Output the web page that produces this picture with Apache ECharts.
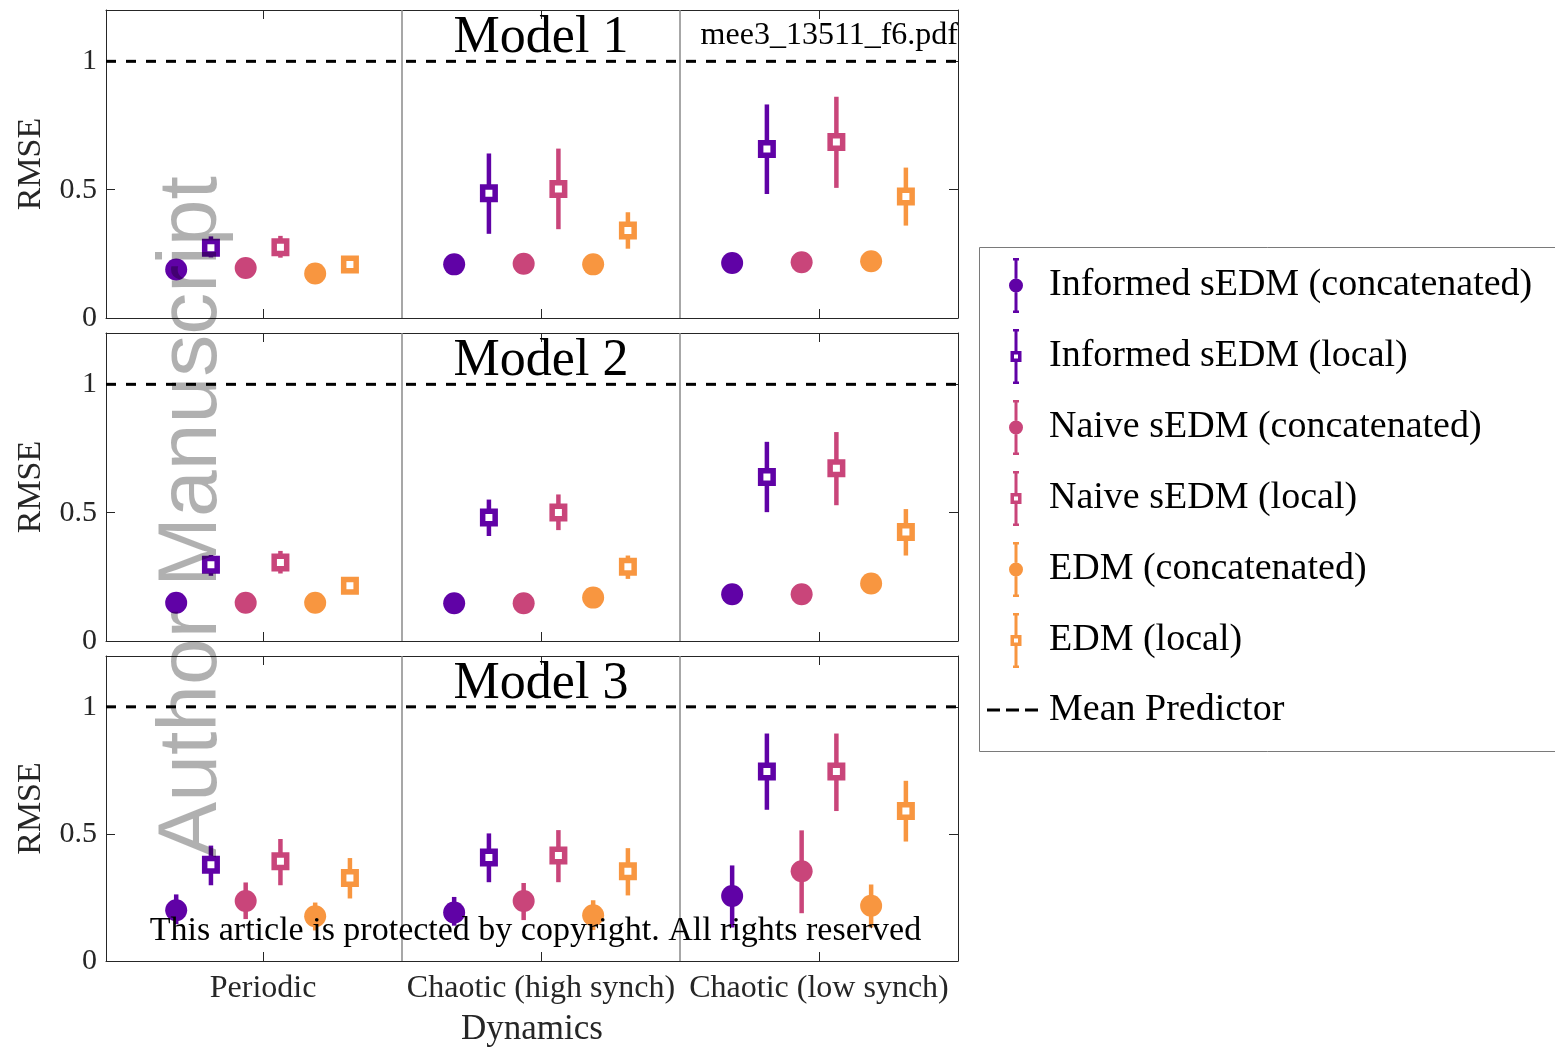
<!DOCTYPE html>
<html>
<head>
    <meta charset="utf-8">
    <title>RMSE by dynamics</title>
    <script src="https://cdn.jsdelivr.net/npm/echarts@6/dist/echarts.min.js"></script>
    <style>
        html, body { margin: 0; padding: 0; background: #fff; }
        #chart { width: 1555px; height: 1048px; }
    </style>
</head>
<body>
    <div id="chart"></div>

    <script>
    // categories and methods
    const categories = ['Periodic', 'Chaotic (high synch)', 'Chaotic (low synch)'];
    const methods = [
        'Informed sEDM (concatenated)',
        'Informed sEDM (local)',
        'Naive sEDM (concatenated)',
        'Naive sEDM (local)',
        'EDM (concatenated)',
        'EDM (local)'
    ];
    const modelNames = ['Model 1', 'Model 2', 'Model 3'];
    const meanPredictorRMSE = 1;

    // rows = methods, columns = categories
    const model1Mean = [
        [0.189, 0.209, 0.214],
        [0.274, 0.486, 0.658],
        [0.195, 0.211, 0.217],
        [0.276, 0.503, 0.686],
        [0.173, 0.209, 0.221],
        [0.208, 0.341, 0.473]
    ];
    const model1Low = [
        [0.177, 0.197, 0.202],
        [0.236, 0.328, 0.483],
        [0.183, 0.199, 0.198],
        [0.235, 0.346, 0.507],
        [0.161, 0.197, 0.209],
        [0.190, 0.270, 0.360]
    ];
    const model1High = [
        [0.201, 0.221, 0.226],
        [0.318, 0.641, 0.832],
        [0.207, 0.223, 0.244],
        [0.320, 0.660, 0.862],
        [0.185, 0.221, 0.233],
        [0.225, 0.412, 0.586]
    ];

    const model2Mean = [
        [0.149, 0.147, 0.182],
        [0.297, 0.481, 0.639],
        [0.149, 0.147, 0.182],
        [0.306, 0.501, 0.673],
        [0.149, 0.169, 0.224],
        [0.215, 0.289, 0.425]
    ];
    const model2Low = [
        [0.139, 0.137, 0.172],
        [0.254, 0.409, 0.502],
        [0.139, 0.137, 0.172],
        [0.263, 0.432, 0.529],
        [0.139, 0.159, 0.214],
        [0.200, 0.242, 0.333]
    ];
    const model2High = [
        [0.159, 0.157, 0.192],
        [0.335, 0.551, 0.776],
        [0.159, 0.157, 0.192],
        [0.351, 0.571, 0.814],
        [0.159, 0.179, 0.234],
        [0.230, 0.333, 0.514]
    ];

    const model3Mean = [
        [0.200, 0.191, 0.256],
        [0.379, 0.407, 0.746],
        [0.236, 0.236, 0.353],
        [0.392, 0.415, 0.746],
        [0.176, 0.180, 0.217],
        [0.327, 0.353, 0.590]
    ];
    const model3Low = [
        [0.145, 0.139, 0.132],
        [0.298, 0.310, 0.595],
        [0.165, 0.161, 0.188],
        [0.298, 0.310, 0.590],
        [0.120, 0.122, 0.132],
        [0.246, 0.258, 0.470]
    ];
    const model3High = [
        [0.262, 0.252, 0.376],
        [0.454, 0.502, 0.895],
        [0.309, 0.307, 0.514],
        [0.480, 0.515, 0.895],
        [0.230, 0.239, 0.301],
        [0.405, 0.444, 0.709]
    ];

    const yTicks = [0, 0.5, 1];

    const models = [
        { mean: model1Mean, low: model1Low, high: model1High },
        { mean: model2Mean, low: model2Low, high: model2High },
        { mean: model3Mean, low: model3Low, high: model3High }
    ];

    const colors = ['#6002a6', '#6002a6', '#c9457a', '#c9457a', '#f89640', '#f89640'];
    const markers = ['circle', 'square', 'circle', 'square', 'circle', 'square'];

    const serif = 'Liberation Serif';
    const axisColor = '#262626';
    const xMin = 0.435, xMax = 3.5;
    const gridTops = [10, 333, 656];
    const gridH = 308;

    function makeRender(marker) {
        return function (params, api) {
            const x = api.value(0);
            const p = api.coord([x, api.value(1)]);
            const lo = api.coord([x, api.value(2)]);
            const hi = api.coord([x, api.value(3)]);
            const color = api.visual('color');
            const kids = [{
                type: 'line',
                shape: { x1: hi[0], y1: hi[1], x2: lo[0], y2: lo[1] },
                style: { stroke: color, lineWidth: 4.5 }
            }];
            if (marker === 'circle') {
                kids.push({ type: 'circle', shape: { cx: p[0], cy: p[1], r: 11 }, style: { fill: color } });
            } else {
                kids.push({
                    type: 'rect',
                    shape: { x: p[0] - 6.25, y: p[1] - 6.25, width: 12.5, height: 12.5 },
                    style: { fill: '#fff', stroke: color, lineWidth: 5.5 }
                });
            }
            return { type: 'group', children: kids };
        };
    }

    function renderMean(params, api) {
        const cs = params.coordSys;
        const y = api.coord([xMin, api.value(1)])[1];
        return {
            type: 'line',
            shape: { x1: cs.x, y1: y, x2: cs.x + cs.width, y2: y },
            style: { stroke: '#000', lineWidth: 3, lineDash: [10, 10] }
        };
    }

    const grids = [], xAxes = [], yAxes = [], series = [];
    const lineSt = { color: axisColor, width: 1 };
    const catTicks = categories.map((c, i) => i + 1);

    gridTops.forEach(function (top, g) {
        grids.push({ left: 106, top: top, width: 852, height: gridH, containLabel: false });
        ['bottom', 'top'].forEach(function (pos) {
            const isLabelled = pos === 'bottom' && g === 2;
            xAxes.push({
                type: 'value', gridIndex: g, position: pos, min: xMin, max: xMax,
                axisLine: { show: true, onZero: false, lineStyle: lineSt },
                axisTick: { show: true, inside: true, length: 9, customValues: catTicks, lineStyle: lineSt },
                axisLabel: {
                    show: isLabelled, customValues: catTicks, margin: 12,
                    fontFamily: serif, fontSize: 32, color: axisColor,
                    formatter: v => categories[Math.round(v) - 1]
                },
                splitLine: { show: false },
                name: isLabelled ? 'Dynamics' : '',
                nameLocation: 'middle', nameGap: 51,
                nameTextStyle: { fontFamily: serif, fontSize: 35, color: axisColor }
            });
        });
        ['left', 'right'].forEach(function (pos) {
            const isLeft = pos === 'left';
            yAxes.push({
                type: 'value', gridIndex: g, position: pos, min: 0, max: 1.2,
                axisLine: { show: true, onZero: false, lineStyle: lineSt },
                axisTick: { show: true, inside: true, length: 9, customValues: yTicks, lineStyle: lineSt },
                axisLabel: {
                    show: isLeft, customValues: yTicks, margin: 9,
                    fontFamily: serif, fontSize: 30, color: axisColor
                },
                splitLine: { show: false },
                name: isLeft ? 'RMSE' : '',
                nameLocation: 'middle', nameGap: 58,
                nameTextStyle: { fontFamily: serif, fontSize: 34, color: axisColor }
            });
        });

        const md = models[g];
        methods.forEach(function (name, m) {
            series.push({
                type: 'custom', name: name,
                xAxisIndex: 2 * g, yAxisIndex: 2 * g,
                renderItem: makeRender(markers[m]),
                itemStyle: { color: colors[m] },
                clip: false,
                data: categories.map((c, i) => [i + 1 + (m - 2.5) * 0.125, md.mean[m][i], md.low[m][i], md.high[m][i]])
            });
        });

        series.push({
            type: 'custom', name: 'Mean Predictor',
            xAxisIndex: 2 * g, yAxisIndex: 2 * g,
            renderItem: renderMean,
            itemStyle: { color: '#000' },
            z: 1,
            data: [[2, meanPredictorRMSE]],
            markLine: {
                silent: true, symbol: 'none', animation: false,
                label: { show: false },
                lineStyle: { color: '#8a8a8a', width: 1.5, type: 'solid' },
                data: categories.slice(1).map((c, i) => ({ xAxis: i + 1.5 }))
            }
        });
    });

    // legend icons (error bar + marker)
    const circleIcon = 'path://M0,0 L0,0 M4,0 H10 V2.5 H8.5 V20.6 H5.5 V2.5 H4 Z M5.5,34.4 H8.5 V52.5 H10 V55 H4 V52.5 H5.5 Z ' +
        'M0,27.5 A7,7 0 1 1 14,27.5 A7,7 0 1 1 0,27.5 Z M14,55 L14,55';
    const squareIcon = 'path://M0,0 L0,0 M4,0 H10 V2.5 H8.5 V22 H5.5 V2.5 H4 Z M5.5,33 H8.5 V52.5 H10 V55 H4 V52.5 H5.5 Z ' +
        'M1.5,22 H12.5 V33 H1.5 Z M5,25.5 V29.5 H9 V25.5 Z M14,55 L14,55';
    const dashIcon = 'path://M0,0 H13 V3 H0 Z M19,0 H32 V3 H19 Z M38,0 H51 V3 H38 Z';

    const legendText = { fontFamily: serif, fontSize: 38, color: '#000', lineHeight: 40 };

    const option = {
        animation: false,
        grid: grids,
        xAxis: xAxes,
        yAxis: yAxes,
        series: series,
        legend: [{
            orient: 'vertical', left: 1009, top: 258, padding: 0,
            itemWidth: 14, itemHeight: 55, itemGap: 16,
            selectedMode: false,
            textStyle: Object.assign({ padding: [0, 0, 0, 21] }, legendText),
            data: methods.map((n, m) => ({
                name: n, icon: markers[m] === 'circle' ? circleIcon : squareIcon,
                itemStyle: { color: colors[m] }
            }))
        }, {
            orient: 'vertical', left: 987, top: 690, padding: 0,
            itemWidth: 51, itemHeight: 3,
            selectedMode: false,
            textStyle: Object.assign({ padding: [0, 0, 0, 6] }, legendText),
            data: [{ name: 'Mean Predictor', icon: dashIcon, itemStyle: { color: '#000' } }]
        }],
        graphic: [
            {
                type: 'rect', z: 0, silent: true,
                shape: { x: 979.5, y: 247.5, width: 620, height: 504 },
                style: { fill: '#fff', stroke: '#7a7a7a', lineWidth: 1 }
            }
        ].concat(modelNames.map((t, g) => ({
            type: 'text', z: 50, silent: true,
            x: 541, y: gridTops[g] + 28,
            style: { text: t, font: '52px "' + serif + '"', fill: '#000', textAlign: 'center', textVerticalAlign: 'middle' }
        }))).concat([
            {
                type: 'text', z: 50, silent: true, x: 958, y: 36,
                style: { text: 'mee3_13511_f6.pdf', font: '32px "' + serif + '"', fill: '#000', textAlign: 'right', textVerticalAlign: 'middle' }
            },
            {
                type: 'text', z: 100, silent: true, x: 193, y: 517, rotation: Math.PI / 2,
                style: { text: 'Author Manuscript', font: '84px "Liberation Sans"', fill: 'rgba(0,0,0,0.31)', textAlign: 'center', textVerticalAlign: 'middle' }
            },
            {
                type: 'text', z: 100, silent: true, x: 535.5, y: 931,
                style: { text: 'This article is protected by copyright. All rights reserved', font: '34px "' + serif + '"', fill: '#000', textAlign: 'center', textVerticalAlign: 'middle' }
            }
        ])
    };

    window.onload = function () {
        const chart = echarts.init(document.getElementById('chart'));
        chart.setOption(option);
    };
    </script>
</body>
</html>
